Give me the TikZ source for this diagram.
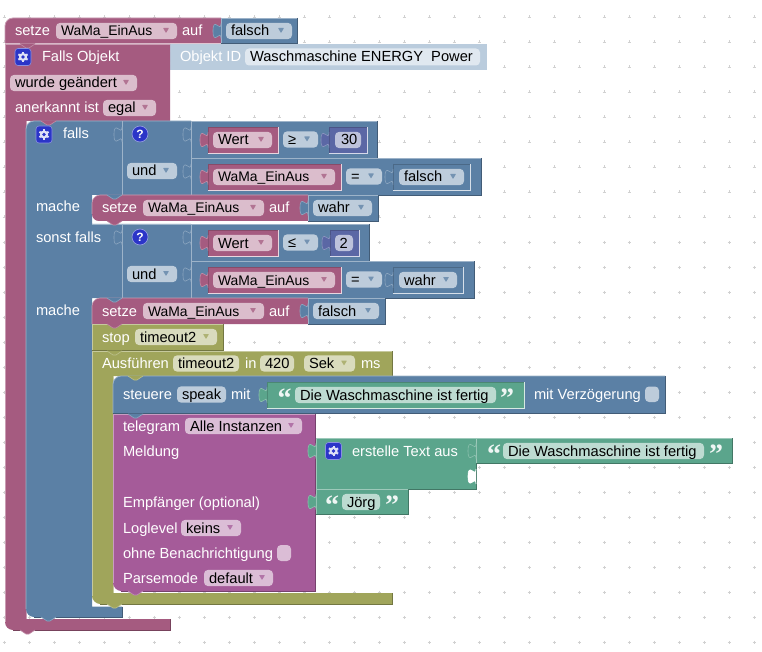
\documentclass[tikz,border=0pt]{standalone}
\usepackage{fontspec}
\setmainfont{Liberation Sans}
\newfontfamily\quofont{Liberation Serif}[BoldFont={Liberation Serif Bold}]
\definecolor{rosec}{HTML}{A55B80}
\definecolor{bluec}{HTML}{5B80A5}
\definecolor{purpc}{HTML}{A55B99}
\definecolor{greenc}{HTML}{5BA58C}
\definecolor{olivec}{HTML}{A0A55B}
\definecolor{numc}{HTML}{5B67A5}
\definecolor{shadc}{HTML}{BACCDD}
\definecolor{iconc}{HTML}{2B35C8}
\tikzset{
  txt/.style={anchor=base west,inner sep=0pt,outer sep=0pt,font=\fontsize{14.67}{16}\selectfont},
  wtxt/.style={txt,text=white},
  ktxt/.style={txt,text=black},
}
\newcommand{\wama}{{\fontsize{13.9}{16}\selectfont WaMa\_EinAus}}
% block with bevel
\newcommand{\blk}[5]{% col x1 y1 x2 y2
  \fill[#1] (#2,#3) rectangle (#4,#5);
  \draw[#1!60!white,line width=.8pt] (#2,#5) -- (#2,#3) -- (#4,#3);
  \draw[#1!72!black,line width=.8pt] (#4,#3) -- (#4,#5) -- (#2,#5);
}
% nested value block with inset bevel
\newcommand{\inblk}[5]{%
  \fill[#1] (#2,#3) rectangle (#4,#5);
  \draw[#1!82!black,line width=.6pt] (#2,#3) -- (#4,#3);
  \draw[#1!82!black,line width=.6pt] (#2,#3) -- (#2,#5);
  \draw[white!75!#1,line width=.7pt] (#2,#5) -- (#4,#5) -- (#4,#3);
}
\newcommand{\vtab}[3]{% x ytop col
  \begin{scope}[shift={(#1,#2)}]
  \fill[#3] (0,0) .. controls (0,10) and (-8,-8) .. (-8,7.5) .. controls (-8,23) and (0,5) .. (0,15) -- cycle;
  \draw[#3!70!white,line width=.6pt] (0,0) .. controls (0,10) and (-8,-8) .. (-8,7.5) .. controls (-8,23) and (0,5) .. (0,15);
  \end{scope}}
\newcommand{\notch}[3]{% x y col
  \begin{scope}[shift={(#1,#2)}]
  \fill[#3] (0,-.5) -- (0,0) -- (6,4) -- (9,4) -- (15,0) -- (15,-.5) -- cycle;
  \draw[#3!70!white,line width=.6pt] (0,0) -- (6,4) -- (9,4) -- (15,0);
  \end{scope}}
\newcommand{\fld}[5]{% col x1 x2 yc text
  \fill[#1!40!white,rounded corners=4pt] (#2,#4-8.1) rectangle (#3,#4+8.1);
  \node[ktxt] at (#2+5,#4+5) {#5};}
\newcommand{\fla}[5]{%
  \fld{#1}{#2}{#3}{#4}{#5}
  \fill[#1!85!white,rounded corners=.5pt] (#3-14,#4-3) -- (#3-8,#4-3) -- (#3-11,#4+2) -- cycle;}
\newcommand{\lbl}[3]{\node[wtxt] at (#1,#2+5) {#3};}
\newcommand{\gearic}[2]{% x y center
  \begin{scope}[shift={(#1,#2)}]
  \fill[iconc,rounded corners=3pt] (-8,-8.5) rectangle (8,8.5);
  \draw[white!45!iconc,rounded corners=3pt,line width=.6pt] (-8,-8.5) rectangle (8,8.5);
  \foreach \a in {30,90,150,210,270,330}{\draw[white!85!iconc,line width=2pt] (0,0) -- (\a:5.3);}
  \fill[white!85!iconc] (0,0) circle (4.1);
  \fill[iconc] (0,0) circle (1.9);
  \end{scope}}
\newcommand{\qic}[2]{%
  \fill[iconc] (#1,#2) circle (7.8);
  \draw[white!50!iconc,line width=.6pt] (#1,#2) circle (8);
  \node[inner sep=0pt,text=white,font=\fontsize{12}{12}\selectfont\bfseries] at (#1,#2) {?};}
\newcommand{\quo}[3]{% x yc char
  \node[txt,text=white!90!greenc,font=\quofont\fontsize{28}{28}\selectfont\bfseries] at (#1,#2+12.5) {#3};}
\newcommand{\chk}[5]{% col x1 y1 x2 y2
  \fill[#1!40!white,rounded corners=4pt] (#2,#3) rectangle (#4,#5);}
\begin{document}
\begin{tikzpicture}[x=1pt,y=-1pt]
\useasboundingbox (0,0) rectangle (762,652);
\fill[white] (0,0) rectangle (762,652);
% grid
\foreach \gx in {4,29,...,754}{\foreach \gy in {17,42,...,642}{
  \draw[black!18,line width=.6pt] (\gx-1.5,\gy) -- (\gx+1.5,\gy) (\gx,\gy-1.5) -- (\gx,\gy+1.5);}}

% ---------- top block
\fill[rosec] (5,26) .. controls (5,21.6) and (8.6,18) .. (13,18) -- (221,18) -- (221,43.5) -- (5,43.5) -- cycle;
\draw[rosec!60!white,line width=.8pt] (5,43) -- (5,26) .. controls (5,21.6) and (8.6,18) .. (13,18) -- (221,18);
\blk{bluec}{221}{18}{297}{43.5}
\vtab{221}{23.5}{bluec}
\lbl{15}{31}{setze}
\fla{rosec}{56}{177}{31}{\wama}
\lbl{182}{31}{auf}
\fla{bluec}{226}{292}{31}{falsch}

% ---------- Object ID shadow
\fill[shadc] (170,44) rectangle (487,70);
\vtab{170}{49.5}{shadc}
\node[wtxt] at (180,62) {Objekt ID};
\fill[white!55!shadc,rounded corners=4pt] (245,48.5) rectangle (480,65.5);
\node[ktxt] at (250,62) {Waschmaschine ENERGY\ \ Power};

% ---------- Falls Objekt C block
\fill[rosec] (5,44) -- (170,44) -- (170,121) -- (26,121) -- (26,619) -- (170,619) -- (170,630) -- (13,630) .. controls (8.6,630) and (5,626.4) .. (5,622) -- cycle;
\draw[rosec!60!white,line width=.8pt] (5,622) -- (5,44) -- (170,44);
\draw[rosec!60!white,line width=.8pt] (26,121) -- (26,619);
\draw[rosec!72!black,line width=.8pt] (170,619) -- (170,630) -- (13,630);
\notch{20}{44}{rosec}
\notch{20}{630}{rosec}
\gearic{23}{57}
\lbl{42}{57}{Falls Objekt}
\fla{rosec}{10}{137}{83}{wurde geändert}
\lbl{15}{108}{anerkannt ist}
\fla{rosec}{103}{156}{108}{egal}

% ---------- blue falls block
\fill[bluec] (26,129) .. controls (26,124.6) and (29.6,121) .. (34,121) -- (191,121) -- (191,195) -- (92,195) -- (92,224) -- (191,224) -- (191,298) -- (92,298) -- (92,606.7) -- (122,606.7) -- (122,617) -- (34,617) .. controls (29.6,617) and (26,613.4) .. (26,609) -- cycle;
\draw[bluec!60!white,line width=.8pt] (26,609) -- (26,129) .. controls (26,124.6) and (29.6,121) .. (34,121) -- (191,121);
\draw[bluec!60!white,line width=.6pt] (122,121) -- (122,195) (122,224) -- (122,298);
\draw[bluec!60!white,line width=.6pt] (92,224) -- (191,224);
\draw[bluec!72!black,line width=.8pt] (122,606.7) -- (122,617) -- (34,617);
\notch{41}{617}{bluec}
\notch{41}{121}{rosec}
\gearic{44}{134.5}
\lbl{63}{134}{falls}
\vtab{122}{127}{bluec}
\qic{140}{134}
\fla{bluec}{127}{177}{171}{und}
\vtab{191}{127}{bluec}
\vtab{191}{164}{bluec}
\lbl{36}{207}{mache}
\lbl{36}{237}{sonst falls}
\vtab{122}{230}{bluec}
\qic{140}{237}
\fla{bluec}{127}{177}{274}{und}
\vtab{191}{230}{bluec}
\vtab{191}{267}{bluec}
\lbl{36}{310}{mache}

% comparison 1
\blk{bluec}{191}{121}{377}{158}
\inblk{rosec}{208}{127}{278}{153}
\vtab{208}{132.5}{rosec}
\fla{rosec}{213}{272}{140}{Wert}
\fla{bluec}{283}{318}{139.5}{≥}
\inblk{numc}{329}{127}{367}{153}
\vtab{329}{132.5}{numc}
\fld{numc}{335}{361}{140}{\kern 1pt 30}
% comparison 2
\blk{bluec}{191}{158}{481}{195}
\inblk{rosec}{208}{164}{341}{190}
\vtab{208}{169.5}{rosec}
\fla{rosec}{213}{335}{177}{\wama}
\fla{bluec}{346}{382}{176.5}{=}
\inblk{bluec}{393}{164}{470}{190}
\vtab{393}{169.5}{bluec}
\fla{bluec}{399}{464}{177}{falsch}
% setze wahr
\fill[rosec] (92,203) .. controls (92,198.6) and (96,195) .. (100,195) -- (308,195) -- (308,221) -- (99,221) .. controls (95,221) and (92,218) .. (92,214) -- cycle;
\draw[rosec!60!white,line width=.6pt] (92,214) -- (92,203) .. controls (92,198.6) and (96,195) .. (100,195) -- (308,195);
\blk{bluec}{308}{195}{378}{221}
\vtab{308}{200.5}{bluec}
\notch{107}{195}{bluec}
\notch{107}{221}{rosec}
\lbl{102}{208}{setze}
\fla{rosec}{143}{264}{208}{\wama}
\lbl{269}{208}{auf}
\fla{bluec}{313}{372}{208}{wahr}
% comparison 3
\blk{bluec}{191}{224}{369}{261}
\inblk{rosec}{208}{230}{278}{256}
\vtab{208}{235.5}{rosec}
\fla{rosec}{213}{272}{243}{Wert}
\fla{bluec}{283}{318}{242.5}{≤}
\inblk{numc}{330}{230}{359}{256}
\vtab{330}{235.5}{numc}
\fld{numc}{335}{353}{243}{\kern -.5pt 2}
% comparison 4
\blk{bluec}{191}{261}{474}{298}
\inblk{rosec}{208}{267}{341}{293}
\vtab{208}{272.5}{rosec}
\fla{rosec}{213}{335}{280}{\wama}
\fla{bluec}{346}{382}{279.5}{=}
\inblk{bluec}{393}{267}{463}{293}
\vtab{393}{272.5}{bluec}
\fla{bluec}{399}{457}{280}{wahr}

% ---------- setze falsch
\fill[rosec] (92,306) .. controls (92,301.6) and (96,298) .. (100,298) -- (308,298) -- (308,324) -- (92,324) -- cycle;
\draw[rosec!60!white,line width=.6pt] (92,324) -- (92,306) .. controls (92,301.6) and (96,298) .. (100,298) -- (308,298);
\blk{bluec}{308}{298}{385}{324}
\vtab{308}{303.5}{bluec}
\notch{107}{298}{bluec}
\lbl{102}{311}{setze}
\fla{rosec}{143}{264}{311}{\wama}
\lbl{269}{311}{auf}
\fla{bluec}{313}{379}{311}{falsch}

% ---------- stop
\blk{olivec}{92}{324}{223}{350}
\notch{107}{324}{rosec}
\lbl{102}{337}{stop}
\fla{olivec}{135}{217}{337}{timeout2}

% ---------- Ausfuehren C block
\fill[olivec] (92,351) -- (392,351) -- (392,376) -- (113,376) -- (113,593) -- (392,593) -- (392,604) -- (100,604) .. controls (96,604) and (92,600) .. (92,596) -- cycle;
\draw[olivec!60!white,line width=.8pt] (92,596) -- (92,351) -- (392,351);
\draw[olivec!72!black,line width=.8pt] (392,351) -- (392,376);
\draw[olivec!60!white,line width=.8pt] (113,376) -- (113,593);
\draw[olivec!72!black,line width=.8pt] (392,593) -- (392,604) -- (100,604);
\notch{107}{351}{olivec}
\notch{107}{604}{olivec}
\lbl{102}{363.5}{Ausführen}
\fld{olivec}{173}{239}{363.5}{timeout2}
\lbl{245}{363.5}{in}
\fld{olivec}{260}{294}{363.5}{420}
\fla{olivec}{304}{355}{363.5}{Sek}
\lbl{361}{363.5}{ms}

% ---------- steuere
\fill[bluec] (113,384) .. controls (113,379.6) and (117,376) .. (121,376) -- (665,376) -- (665,413) -- (113,413) -- cycle;
\draw[bluec!60!white,line width=.8pt] (113,413) -- (113,384) .. controls (113,379.6) and (117,376) .. (121,376) -- (665,376);
\draw[bluec!72!black,line width=.8pt] (665,376) -- (665,413) -- (113,413);
\notch{128}{376}{olivec}
\lbl{123}{394}{steuere}
\fld{bluec}{177}{226}{394.5}{speak}
\lbl{231}{394}{mit}
\inblk{greenc}{267}{382}{524}{408}
\vtab{267}{387.5}{greenc}
\quo{277.5}{395}{“}
\fld{greenc}{295}{496}{395}{Die Waschmaschine ist fertig}
\quo{500}{395}{”}
\lbl{534}{394}{mit Verzögerung}
\chk{bluec}{645}{386.5}{659}{402}

% ---------- telegram
\fill[purpc] (113,414) -- (315,414) -- (315,591) -- (121,591) .. controls (117,591) and (113,587) .. (113,583) -- cycle;
\draw[purpc!60!white,line width=.8pt] (113,583) -- (113,414) -- (315,414);
\draw[purpc!72!black,line width=.8pt] (315,414) -- (315,591) -- (121,591);
\notch{128}{414}{bluec}
\notch{128}{591}{purpc}
\lbl{123}{426}{telegram}
\fla{purpc}{185}{302}{426}{Alle Instanzen}
\lbl{123}{451}{Meldung}
\lbl{123}{502}{Empfänger (optional)}
\lbl{123}{528}{Loglevel}
\fla{purpc}{181}{241}{528}{keins}
\lbl{123}{553}{ohne Benachrichtigung}
\chk{purpc}{277}{545}{291}{561}
\lbl{123}{578}{Parsemode}
\fla{purpc}{204}{273}{578}{default}

% ---------- erstelle Text aus
\blk{greenc}{316}{438}{476}{489}
\vtab{316}{443.5}{greenc}
\gearic{333.5}{451}
\lbl{352}{451}{erstelle Text aus}
\vtab{476}{469}{white}
\blk{greenc}{476}{438}{732}{463.5}
\vtab{476}{443.5}{greenc}
\quo{487}{451}{“}
\fld{greenc}{503}{704}{451}{Die Waschmaschine ist fertig}
\quo{709}{451}{”}

% ---------- Joerg
\blk{greenc}{316}{489.5}{408}{514}
\vtab{316}{494.5}{greenc}
\quo{325}{502}{“}
\fld{greenc}{342}{380}{502}{Jörg}
\quo{385}{502}{”}
\end{tikzpicture}
\end{document}
